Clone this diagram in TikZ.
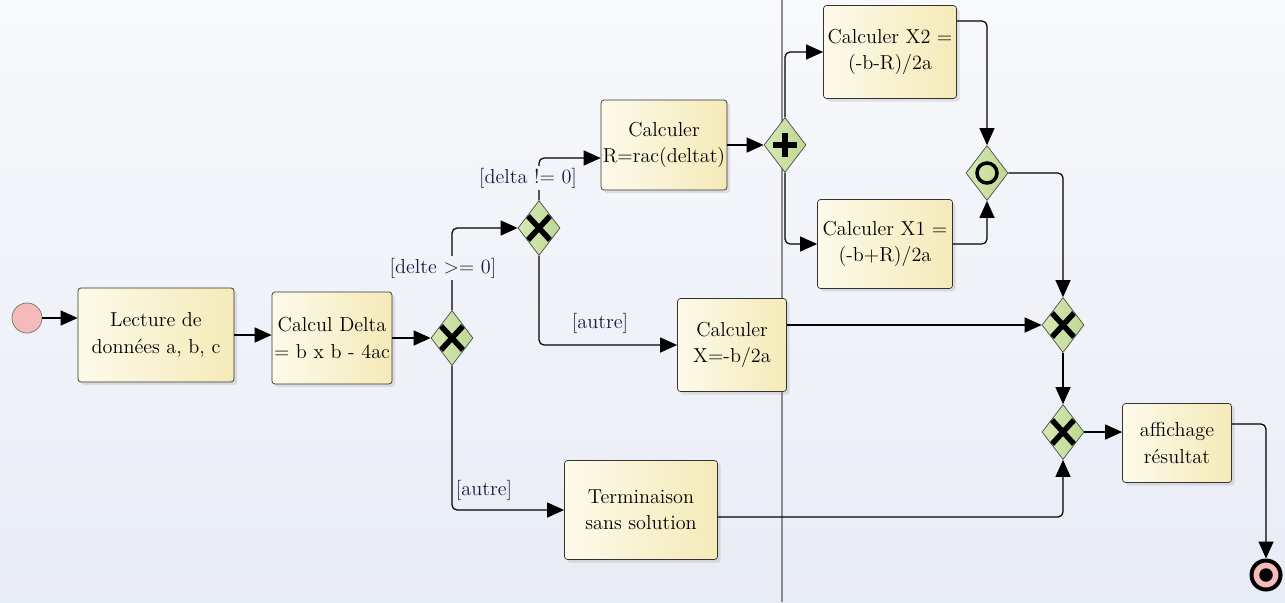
\documentclass[tikz,border=0pt]{standalone}
\usetikzlibrary{shapes.geometric,arrows.meta,shadows}
\definecolor{bgtop}{RGB}{248,249,252}
\definecolor{bgbot}{RGB}{232,236,245}
\definecolor{boxl}{RGB}{253,250,234}
\definecolor{boxr}{RGB}{245,234,184}
\definecolor{gatel}{RGB}{214,232,180}
\definecolor{gater}{RGB}{190,216,145}
\definecolor{evpink}{RGB}{246,186,186}
\definecolor{guardtext}{RGB}{25,25,60}
\begin{document}
\begin{tikzpicture}
          [x=0.2mm,y=-0.2mm,
           task/.style={draw=black!80, rounded corners=0.6mm, left color=boxl, right color=boxr, align=center, inner sep=1pt,
             font=\fontsize{11.5}{15}\selectfont, drop shadow={shadow xshift=0.6mm, shadow yshift=-0.6mm, opacity=0.2}},
           gate/.style={diamond, draw=black!70, left color=gatel, right color=gater, minimum width=8.4mm, minimum height=11mm, inner sep=0pt},
           xgate/.style={gate, path picture={\draw[black, line width=1.1mm]
             ([shift={(-2.2mm,-2.4mm)}]path picture bounding box.center) -- ([shift={(2.2mm,2.4mm)}]path picture bounding box.center)
             ([shift={(-2.2mm,2.4mm)}]path picture bounding box.center) -- ([shift={(2.2mm,-2.4mm)}]path picture bounding box.center);}},
           pgate/.style={gate, path picture={\draw[black, line width=1.1mm]
             ([xshift=-2.4mm]path picture bounding box.center) -- ([xshift=2.4mm]path picture bounding box.center)
             ([yshift=-2.4mm]path picture bounding box.center) -- ([yshift=2.4mm]path picture bounding box.center);}},
           ogate/.style={gate, path picture={\draw[black, line width=0.7mm] (path picture bounding box.center) circle (2mm);}},
           startev/.style={circle, draw=black!55, fill=evpink, minimum size=6mm, inner sep=0pt},
           endev/.style={circle, draw=black, line width=0.8mm, fill=evpink, minimum size=5.8mm, inner sep=0pt,
             path picture={\fill[black] (path picture bounding box.center) circle (1.35mm);}},
           flow/.style={draw=black, line width=0.7pt, rounded corners=1mm, -{Triangle[length=3.4mm,width=3mm]}},
           guard/.style={text=guardtext, font=\fontsize{11.5}{14}\selectfont, inner sep=1pt},
           lanesep/.style={draw=black!45, line width=1pt}]
        \useasboundingbox (0,0) rectangle (1285,602);
        \shade[top color=bgtop, bottom color=bgbot] (0,0) rectangle (1285,602);
        \draw[lanesep] (782,0) -- (782,602);

        \node[startev] (start) at (27,318) {};
        \node[task, minimum width=31.2mm, minimum height=18.8mm] (lecture) at (156,335) {Lecture de\\données a, b, c};
        \node[task, minimum width=24mm, minimum height=18.4mm] (delta) at (332,338) {Calcul Delta\\= b x b - 4ac};
        \node[xgate] (g1) at (452,338) {};
        \node[xgate] (g2) at (539,228) {};
        \node[task, minimum width=24mm, minimum height=18mm] (calcr) at (664,145) {Calculer\\R=rac(deltat)};
        \node[pgate] (g3) at (785,145) {};
        \node[task, minimum width=26.6mm, minimum height=18.6mm] (x2) at (890,52) {Calculer X2 =\\(-b-R)/2a};
        \node[task, minimum width=27mm, minimum height=17.8mm] (x1) at (885,244) {Calculer X1 =\\(-b+R)/2a};
        \node[ogate] (g4) at (987,173) {};
        \node[task, minimum width=21.8mm, minimum height=18.6mm] (calcx) at (732,345) {Calculer\\X=-b/2a};
        \node[task, minimum width=30.6mm, minimum height=19.8mm] (term) at (641,510) {Terminaison\\sans solution};
        \node[xgate] (g5) at (1063,325) {};
        \node[xgate] (g6) at (1063,432) {};
        \node[task, minimum width=21.8mm, minimum height=15.8mm] (affich) at (1177,443) {affichage\\résultat};
        \node[endev] (end) at (1266,575) {};

        \foreach \from/\to in {delta.east/g1.west, calcr.east/g3.west, g5.south/g6.north}
          \draw[flow] (\from) -- (\to);
        \foreach \from/\to in {g1.north/g2.west, g3.north/x2.west, g3.south/x1.west, g2.south/calcx.west, g1.south/term.west}
          \draw[flow] (\from) |- (\to);
        \foreach \from/\to in {x1.east/g4.south, g4.east/g5.north}
          \draw[flow] (\from) -| (\to);

        \draw[flow] (start) -- (start -| lecture.west);
        \draw[flow] (lecture.east) -- (lecture.east -| delta.west);
        \draw[flow] (g2.north) |- ([yshift=-2.6mm]calcr.west);
        \draw[flow] ([yshift=6.2mm]x2.east) -| (g4.north);
        \draw[flow] (g5.west -| calcx.east) -- (g5.west);
        \draw[flow] ([yshift=-1.4mm]term.east) -| (g6.south);
        \draw[flow] (g6.east) -- (g6.east -| affich.west);
        \draw[flow] ([yshift=3.8mm]affich.east) -| (end.north);

        \node[guard, fill=bgtop!55!bgbot] (gd1) at (443,268) {[delte >= 0]};
        \node[guard, fill=bgtop!65!bgbot] (gd2) at (528,178) {[delta != 0]};
        \node[guard] (gd3) at (600,323) {[autre]};
        \node[guard] (gd4) at (484,490) {[autre]};
      \end{tikzpicture}
\end{document}
